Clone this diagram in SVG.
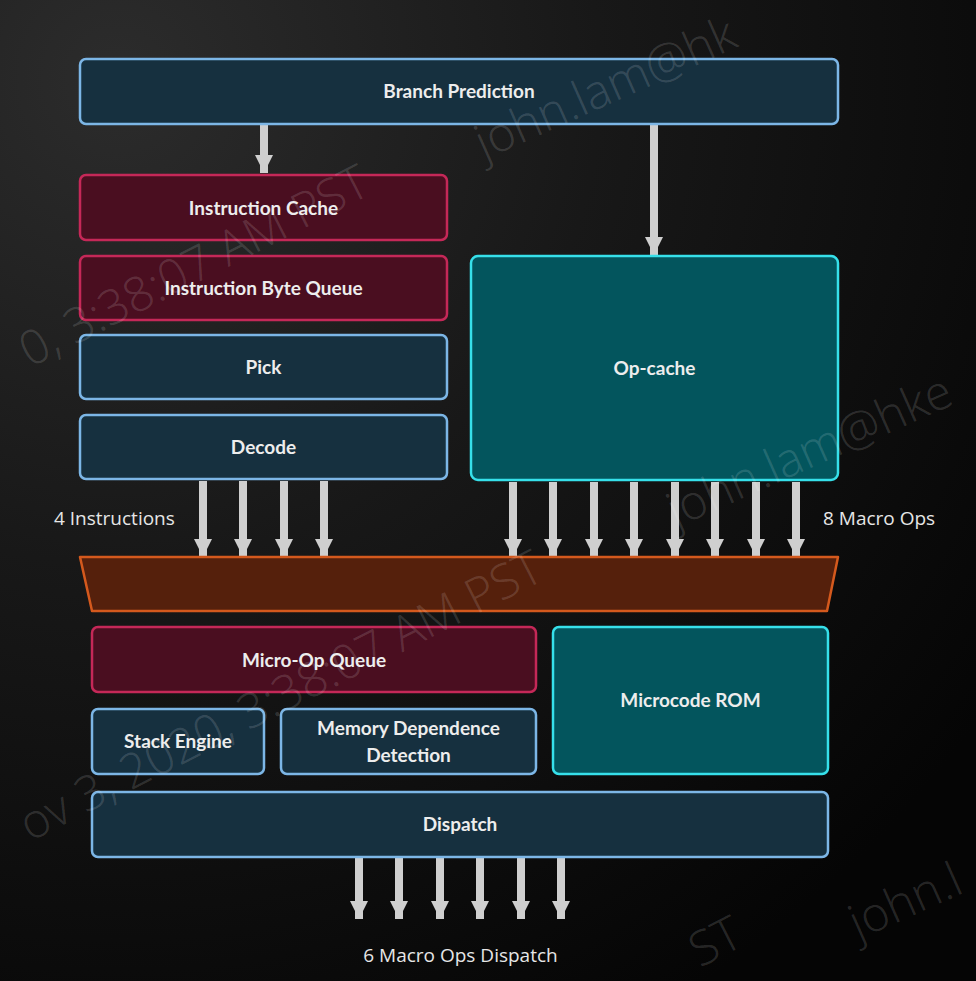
<svg xmlns="http://www.w3.org/2000/svg" width="976" height="981" viewBox="0 0 976 981">
<defs>
  <radialGradient id="bg" cx="0.12" cy="0.08" r="1.1">
    <stop offset="0" stop-color="#2c2c2c"/>
    <stop offset="0.45" stop-color="#181818"/>
    <stop offset="1" stop-color="#050505"/>
  </radialGradient>
  <marker id="ah" markerUnits="userSpaceOnUse" markerWidth="18" markerHeight="18" viewBox="0 0 16 16" refX="16" refY="8" orient="auto">
    <path d="M0,0 L16,8 L0,16 Z" fill="#cfcfcf"/>
  </marker>
  <style>
    .blue rect { fill: #16303f; stroke: #7cb6e6; stroke-width: 2.5; }
    .red rect { fill: #4a0e20; stroke: #c52858; stroke-width: 2.5; }
    .teal rect { fill: #03555d; stroke: #36e0ea; stroke-width: 2.5; }
    .lbl { font-family: Lato, "Open Sans", "Liberation Sans", sans-serif; font-weight: 700; font-size: 19px; fill: #ededed; text-anchor: middle; }
    .note { font-family: "Open Sans", "Liberation Sans", sans-serif; font-size: 19px; fill: #e6e6e6; }
    .arr { stroke: #cfcfcf; stroke-width: 8; fill: none; marker-end: url(#ah); }
    .wm { font-family: "Open Sans", "Liberation Sans", sans-serif; font-weight: 300; font-size: 48px; fill: #ffffff; fill-opacity: 0.15; }
  </style>
</defs>
<rect width="976" height="981" fill="url(#bg)"/>

<g id="connectors">
  <line class="arr" x1="264" y1="125" x2="264" y2="173"/>
  <line class="arr" x1="654" y1="125" x2="654" y2="255"/>
  <line class="arr" x1="203" y1="481" x2="203" y2="557"/>
  <line class="arr" x1="243" y1="481" x2="243" y2="557"/>
  <line class="arr" x1="284" y1="481" x2="284" y2="557"/>
  <line class="arr" x1="324" y1="481" x2="324" y2="557"/>
  <line class="arr" x1="513" y1="482" x2="513" y2="557"/>
  <line class="arr" x1="553" y1="482" x2="553" y2="557"/>
  <line class="arr" x1="594" y1="482" x2="594" y2="557"/>
  <line class="arr" x1="634" y1="482" x2="634" y2="557"/>
  <line class="arr" x1="675" y1="482" x2="675" y2="557"/>
  <line class="arr" x1="715" y1="482" x2="715" y2="557"/>
  <line class="arr" x1="756" y1="482" x2="756" y2="557"/>
  <line class="arr" x1="796" y1="482" x2="796" y2="557"/>
  <line class="arr" x1="359" y1="858" x2="359" y2="919"/>
  <line class="arr" x1="399" y1="858" x2="399" y2="919"/>
  <line class="arr" x1="440" y1="858" x2="440" y2="919"/>
  <line class="arr" x1="480" y1="858" x2="480" y2="919"/>
  <line class="arr" x1="521" y1="858" x2="521" y2="919"/>
  <line class="arr" x1="561" y1="858" x2="561" y2="919"/>
</g>

<g id="branch-prediction" class="blue">
  <rect x="80" y="59" width="758" height="65" rx="6"/>
  <text class="lbl" x="459" y="98">Branch Prediction</text>
</g>
<g id="instruction-cache" class="red">
  <rect x="80" y="175" width="367" height="65" rx="6"/>
  <text class="lbl" x="263.5" y="214.5">Instruction Cache</text>
</g>
<g id="instruction-byte-queue" class="red">
  <rect x="80" y="256" width="367" height="64" rx="6"/>
  <text class="lbl" x="263.5" y="295">Instruction Byte Queue</text>
</g>
<g id="pick" class="blue">
  <rect x="80" y="335" width="367" height="64" rx="6"/>
  <text class="lbl" x="263.5" y="374">Pick</text>
</g>
<g id="decode" class="blue">
  <rect x="80" y="415" width="367" height="64" rx="6"/>
  <text class="lbl" x="263.5" y="454">Decode</text>
</g>
<g id="op-cache" class="teal">
  <rect x="471" y="256" width="367" height="224" rx="7"/>
  <text class="lbl" x="654.5" y="375">Op-cache</text>
</g>

<g id="labels-mid">
  <text class="note" x="54" y="525">4 Instructions</text>
  <text class="note" x="823" y="525">8 Macro Ops</text>
</g>

<g id="mux">
  <polygon points="80,557 838,557 827,611 92,611" fill="#55200c" stroke="#d4591d" stroke-width="2.5" stroke-linejoin="round"/>
</g>

<g id="micro-op-queue" class="red">
  <rect x="92" y="627" width="444" height="65" rx="6"/>
  <text class="lbl" x="314" y="666.5">Micro-Op Queue</text>
</g>
<g id="microcode-rom" class="teal">
  <rect x="553" y="627" width="275" height="147" rx="6"/>
  <text class="lbl" x="690.5" y="707">Microcode ROM</text>
</g>
<g id="stack-engine" class="blue">
  <rect x="92" y="709" width="172" height="65" rx="6"/>
  <text class="lbl" x="178" y="748">Stack Engine</text>
</g>
<g id="memory-dependence-detection" class="blue">
  <rect x="281" y="709" width="255" height="65" rx="6"/>
  <text class="lbl" x="408.5" y="735">Memory Dependence</text>
  <text class="lbl" x="408.5" y="761.5">Detection</text>
</g>
<g id="dispatch" class="blue">
  <rect x="92" y="792" width="736" height="65" rx="6"/>
  <text class="lbl" x="460" y="831">Dispatch</text>
</g>

<g id="label-bottom">
  <text class="note" x="460.5" y="962" text-anchor="middle">6 Macro Ops Dispatch</text>
</g>

<g id="watermarks">
  <text class="wm" transform="translate(484,160) rotate(-24)">john.lam@hk</text>
  <text class="wm" transform="translate(30,368) rotate(-27)">0, 3:38:07 AM PST</text>
  <text class="wm" transform="translate(676,528) rotate(-24)">john.lam@hke</text>
  <text class="wm" transform="translate(30,842) rotate(-27)">ov 3, 2020, 3:38:07 AM PST</text>
  <text class="wm" transform="translate(858,940) rotate(-24)">john.l</text>
  <text class="wm" transform="translate(700,968) rotate(-27)">ST</text>
</g>
</svg>
